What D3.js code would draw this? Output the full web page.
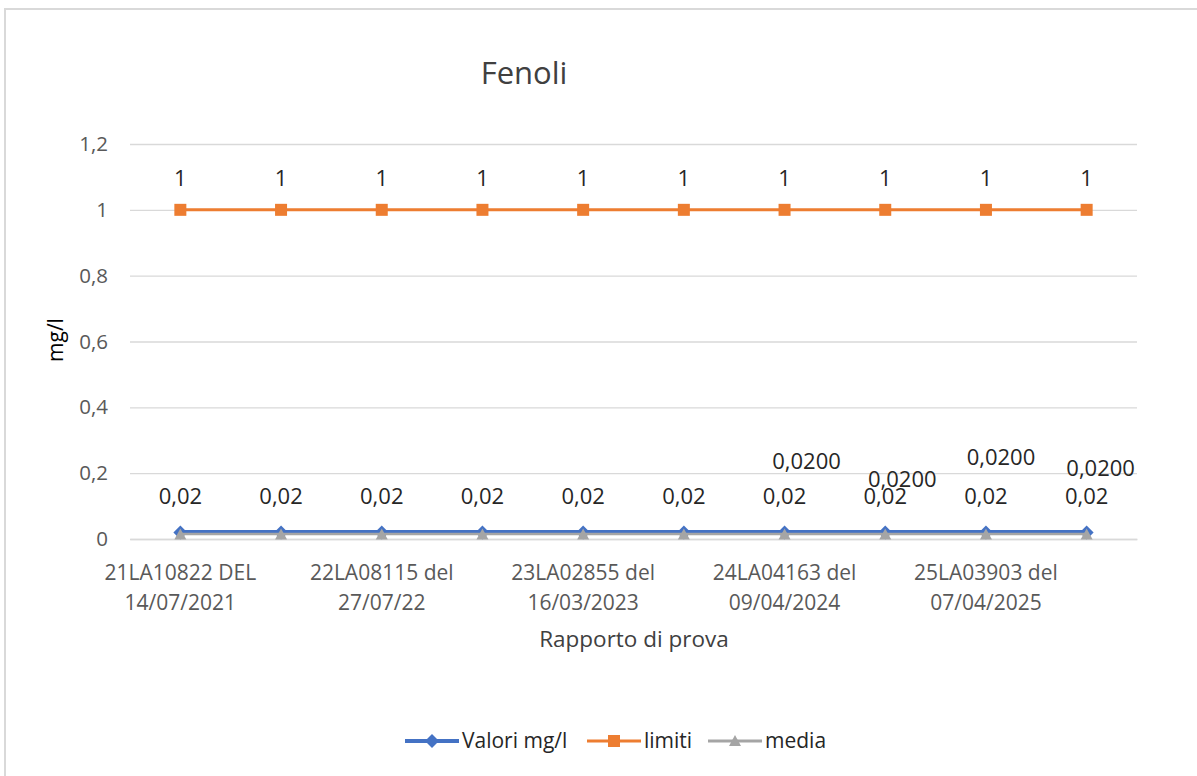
<!DOCTYPE html>
<html>
<head>
<meta charset="utf-8">
<script src="https://cdn.jsdelivr.net/npm/d3@7"></script>
<style>
  html, body { margin: 0; padding: 0; background: #fff; }
  svg { display: block; font-family: "Open Sans", "Noto Sans", sans-serif; }
</style>
</head>
<body>
<svg id="chart" width="1197" height="776"></svg>
<script>
// ---- data ----
const categories = [
  "21LA10822 DEL\n14/07/2021", "",
  "22LA08115 del\n27/07/22", "",
  "23LA02855 del\n16/03/2023", "",
  "24LA04163 del\n09/04/2024", "",
  "25LA03903 del\n07/04/2025", ""
];
const valori = [0.02, 0.02, 0.02, 0.02, 0.02, 0.02, 0.02, 0.02, 0.02, 0.02];
const limiti = [1, 1, 1, 1, 1, 1, 1, 1, 1, 1];
const media  = [0.02, 0.02, 0.02, 0.02, 0.02, 0.02, 0.02, 0.02, 0.02, 0.02];
const mediaLabelIdx = [6, 7, 8, 9];
const yTicks = [0, 0.2, 0.4, 0.6, 0.8, 1, 1.2];
const seriesNames = ["Valori mg/l", "limiti", "media"];

// ---- layout ----
const svg = d3.select("#chart");
const plot = { left: 130, right: 1137, top: 144, bottom: 539 };
const colors = { valori: "#4472C4", limiti: "#ED7D31", media: "#A5A5A5" };
const fmtComma = v => String(+v.toFixed(4)).replace(".", ",");

// border
svg.append("rect").attr("x", 5).attr("y", 9).attr("width", 1260).attr("height", 800)
  .attr("fill", "none").attr("stroke", "#d9d9d9").attr("stroke-width", 2);

const x = d3.scaleBand().domain(d3.range(categories.length))
  .range([plot.left, plot.right]).padding(0);
const cx = i => x(i) + x.bandwidth() / 2;
const y = d3.scaleLinear().domain([0, 1.2]).range([plot.bottom, plot.top]);

// gridlines + y labels
const yAxis = d3.axisLeft(y).tickValues(yTicks).tickSize(-(plot.right - plot.left))
  .tickFormat(d => fmtComma(d)).tickPadding(22);
const gy = svg.append("g").attr("transform", `translate(${plot.left},0)`).call(yAxis);
gy.select(".domain").remove();
gy.selectAll(".tick line").attr("stroke", "#d9d9d9").attr("stroke-width", 1.3);
gy.selectAll(".tick text").attr("fill", "#595959").style("font-size", "20.5px")
  .style("font-family", "'Open Sans', sans-serif");

// x axis
const xAxis = d3.axisBottom(x).tickSize(0).tickFormat("");
const gx = svg.append("g").attr("transform", `translate(0,${plot.bottom})`).call(xAxis);
gx.select(".domain").attr("stroke", "#d9d9d9").attr("stroke-width", 1.3);

// x category labels (two lines)
categories.forEach((c, i) => {
  if (!c) return;
  const lines = c.split("\n");
  const t = svg.append("text").attr("text-anchor", "middle").attr("fill", "#595959")
    .style("font-size", "21px");
  lines.forEach((ln, k) => {
    t.append("tspan").attr("x", cx(i)).attr("y", plot.bottom + 41 + k * 30).text(ln);
  });
});

// titles
svg.append("text").attr("x", 524).attr("y", 84).attr("text-anchor", "middle")
  .attr("fill", "#404040").style("font-size", "31px").text("Fenoli");
svg.append("text").attr("transform", "translate(63,340) rotate(-90)").attr("text-anchor", "middle")
  .attr("fill", "#000").style("font-size", "21px").text("mg/l");
svg.append("text").attr("x", 634).attr("y", 647).attr("text-anchor", "middle")
  .attr("fill", "#404040").style("font-size", "22.5px").text("Rapporto di prova");

// markers
function marker(g, type, px, py, color) {
  if (type === "diamond") {
    g.append("path").attr("d", `M${px},${py-7}L${px+7},${py}L${px},${py+7}L${px-7},${py}Z`).attr("fill", color);
  } else if (type === "square") {
    g.append("rect").attr("x", px-6).attr("y", py-6).attr("width", 12).attr("height", 12).attr("fill", color);
  } else {
    g.append("path").attr("d", `M${px},${py-6}L${px+6},${py+5}L${px-6},${py+5}Z`).attr("fill", color);
  }
}

const line = d3.line().x((d, i) => cx(i)).y(d => y(d));

// limiti
const gL = svg.append("g");
gL.append("path").datum(limiti).attr("d", line).attr("fill", "none")
  .attr("stroke", colors.limiti).attr("stroke-width", 3);
limiti.forEach((v, i) => marker(gL, "square", cx(i), y(v), colors.limiti));

// valori
const gV = svg.append("g");
gV.append("path").datum(valori).attr("d", line).attr("fill", "none")
  .attr("stroke", colors.valori).attr("stroke-width", 5);
valori.forEach((v, i) => marker(gV, "diamond", cx(i), y(v), colors.valori));

// media
const gM = svg.append("g");
gM.append("path").datum(media).attr("d", line).attr("fill", "none")
  .attr("stroke", colors.media).attr("stroke-width", 2.5).attr("transform", "translate(0,1.5)");
media.forEach((v, i) => marker(gM, "triangle", cx(i), y(v) + 2, colors.media));

// data labels
const labelStyle = s => s.attr("text-anchor", "middle").attr("fill", "#262626").style("font-size", "22px");
limiti.forEach((v, i) => {
  svg.append("text").call(labelStyle).attr("x", cx(i)).attr("y", y(v) - 24).text(fmtComma(v));
});
valori.forEach((v, i) => {
  svg.append("text").call(labelStyle).attr("x", cx(i)).attr("y", y(v) - 28).text(fmtComma(v));
});
// media labels (manually placed in the original)
const mediaOffsets = { 6: [22, -63], 7: [17, -45], 8: [15, -67], 9: [14, -56] };
mediaLabelIdx.forEach(i => {
  const [dx, dy] = mediaOffsets[i];
  svg.append("text").call(labelStyle).attr("x", cx(i) + dx).attr("y", y(media[i]) + dy)
    .text(media[i].toFixed(4).replace(".", ","));
});

// legend
const legY = 741;
const legend = [
  { name: seriesNames[0], color: colors.valori, type: "diamond", x0: 405, w: 4 },
  { name: seriesNames[1], color: colors.limiti, type: "square", x0: 587, w: 3 },
  { name: seriesNames[2], color: colors.media, type: "triangle", x0: 708, w: 3 }
];
legend.forEach(l => {
  svg.append("line").attr("x1", l.x0).attr("x2", l.x0 + 54).attr("y1", legY).attr("y2", legY)
    .attr("stroke", l.color).attr("stroke-width", l.w);
  marker(svg, l.type, l.x0 + 27, legY, l.color);
  svg.append("text").attr("x", l.x0 + 57).attr("y", legY + 7).attr("fill", "#262626")
    .style("font-size", "21px").text(l.name);
});
</script>
</body>
</html>
